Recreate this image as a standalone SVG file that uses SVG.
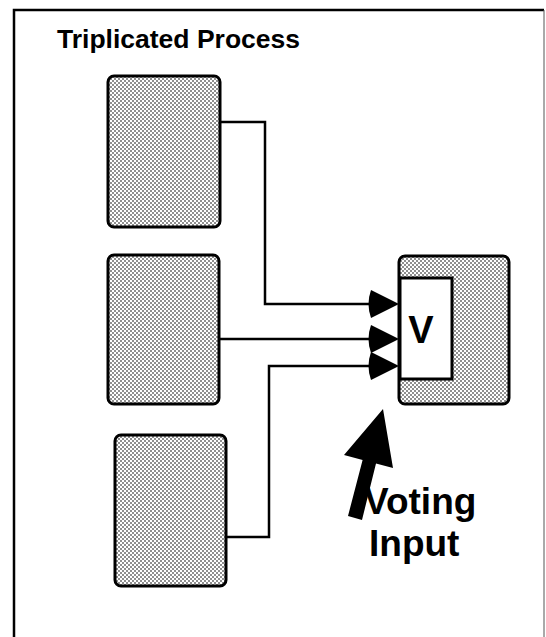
<svg xmlns="http://www.w3.org/2000/svg" width="546" height="637" viewBox="0 0 546 637">
<defs>
<pattern id="dots" width="4" height="4" patternUnits="userSpaceOnUse">
<rect width="4" height="4" fill="#ffffff"/>
<circle cx="1" cy="1" r="0.8" fill="#000"/>
<circle cx="3" cy="3" r="0.8" fill="#000"/>
</pattern>
<style>
.proc{fill:url(#dots);stroke:#000;stroke-width:3}
.wire{fill:none;stroke:#000;stroke-width:2.5}
.head{fill:#000;stroke:none}
.lbl{font-family:"Liberation Sans",Arial,sans-serif;font-weight:bold;fill:#000}
</style>
</defs>
<rect width="546" height="637" fill="#fff"/>
<g id="frame">
<path d="M14,637 V10 H544" fill="none" stroke="#000" stroke-width="2.5"/>
<path d="M544,10 V637" fill="none" stroke="#555" stroke-width="1"/>
</g>
<g id="title"><text class="lbl" x="57" y="48" font-size="26.5">Triplicated Process</text></g>
<g id="proc1"><rect class="proc" x="108" y="76" width="112" height="151" rx="6"/></g>
<g id="proc2"><rect class="proc" x="108" y="255" width="111" height="149" rx="6"/></g>
<g id="proc3"><rect class="proc" x="115" y="435" width="111" height="151" rx="6"/></g>
<g id="voter">
<rect class="proc" x="399" y="256" width="110" height="148" rx="6"/>
<rect x="400" y="278" width="52" height="101" fill="#fff" stroke="#000" stroke-width="3"/>
<text class="lbl" x="421" y="343" font-size="38" text-anchor="middle">V</text>
</g>
<g id="connectors">
<path class="wire" d="M220,122 H265 V304 H375"/>
<path class="wire" d="M219,339 H375"/>
<path class="wire" d="M226,537 H269 V366 H375"/>
<path class="head" d="M371,290 L399,304 L371,318 Q366,304 371,290 Z"/>
<path class="head" d="M371,325 L399,339 L371,353 Q366,339 371,325 Z"/>
<path class="head" d="M371,352 L399,366 L371,380 Q366,366 371,352 Z"/>
</g>
<g id="voting-input">
<polygon class="head" points="383,409 393,468 376,463.5 362,520 348,516 362.6,460 344,455"/>
<text class="lbl" x="364" y="514" font-size="37">Voting</text>
<text class="lbl" x="369" y="556" font-size="37">Input</text>
</g>
</svg>
